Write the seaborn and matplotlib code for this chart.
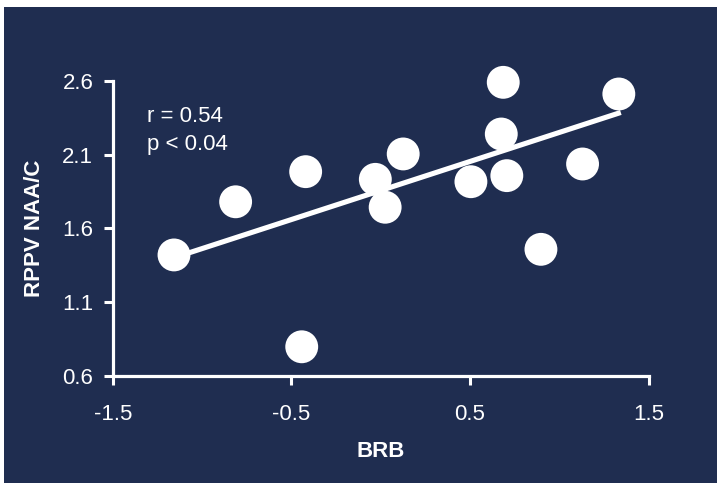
import matplotlib
matplotlib.use("Agg")
import matplotlib.pyplot as plt
from matplotlib.patches import Rectangle
import seaborn as sns
import pandas as pd

# Per-subject values
brb = [-1.157, -0.812, -0.420, -0.442, -0.030, 0.025, 0.126,
       0.505, 0.686, 0.675, 0.706, 0.897, 1.130, 1.333]
rppv_naa_cr = [1.420, 1.780, 1.984, 0.798, 1.932, 1.743, 2.104,
               1.916, 2.589, 2.239, 1.957, 1.458, 2.036, 2.510]

# Fitted trend line end points
fit_x = [-1.16, 1.344]
fit_y = [1.40, 2.385]

x_ticks = [-1.5, -0.5, 0.5, 1.5]
y_ticks = [0.6, 1.1, 1.6, 2.1, 2.6]
x_tick_labels = ["-1.5", "-0.5", "0.5", "1.5"]
y_tick_labels = ["0.6", "1.1", "1.6", "2.1", "2.6"]

stats_lines = ["r = 0.54", "p < 0.04"]

NAVY = "#1f2d50"
WHITE = "white"

sns.set_theme(style="white")
plt.rcParams["font.family"] = ["Liberation Sans", "DejaVu Sans"]

df = pd.DataFrame({"BRB": brb, "RPPV": rppv_naa_cr})
fit_df = pd.DataFrame({"x": fit_x, "y": fit_y})

fig = plt.figure(figsize=(7.17, 4.83), dpi=100)
fig.patch.set_facecolor("white")
fig.add_artist(Rectangle((4 / 717, 0), 1 - 4 / 717, 1 - 7 / 483,
                         transform=fig.transFigure, facecolor=NAVY,
                         edgecolor="none", zorder=0))

ax = fig.add_axes([0.1572, 0.2215, 0.9047 - 0.1572, 0.8329 - 0.2215])
ax.patch.set_alpha(0)

sns.lineplot(data=fit_df, x="x", y="y", ax=ax, color=WHITE, lw=3.7,
             solid_capstyle="butt", zorder=2)
sns.scatterplot(data=df, x="BRB", y="RPPV", ax=ax, color=WHITE, s=560,
                edgecolor="none", zorder=3, clip_on=False)

ax.set_xlim(-1.5, 1.5)
ax.set_ylim(0.6, 2.6)
ax.set_xticks(x_ticks)
ax.set_xticklabels(x_tick_labels)
ax.set_yticks(y_ticks)
ax.set_yticklabels(y_tick_labels)

for side in ["top", "right"]:
    ax.spines[side].set_visible(False)
for side in ["left", "bottom"]:
    ax.spines[side].set_color(WHITE)
    ax.spines[side].set_linewidth(2.3)

ax.tick_params(axis="both", which="major", bottom=True, left=True,
               colors=WHITE, direction="out", length=6.5, width=2.2,
               labelsize=16, labelcolor=WHITE)
ax.tick_params(axis="x", pad=14)
ax.tick_params(axis="y", pad=7.5)

ax.set_xlabel("BRB", color=WHITE, fontsize=16, fontweight="bold", labelpad=11)
ax.set_ylabel("RPPV NAA/C", color=WHITE, fontsize=16, fontweight="bold",
              labelpad=12)

for line, y in zip(stats_lines, [2.320, 2.131]):
    ax.text(-1.308, y, line, color=WHITE, fontsize=16,
            ha="left", va="baseline")

fig.savefig("out.png", dpi=100, facecolor=fig.get_facecolor())
